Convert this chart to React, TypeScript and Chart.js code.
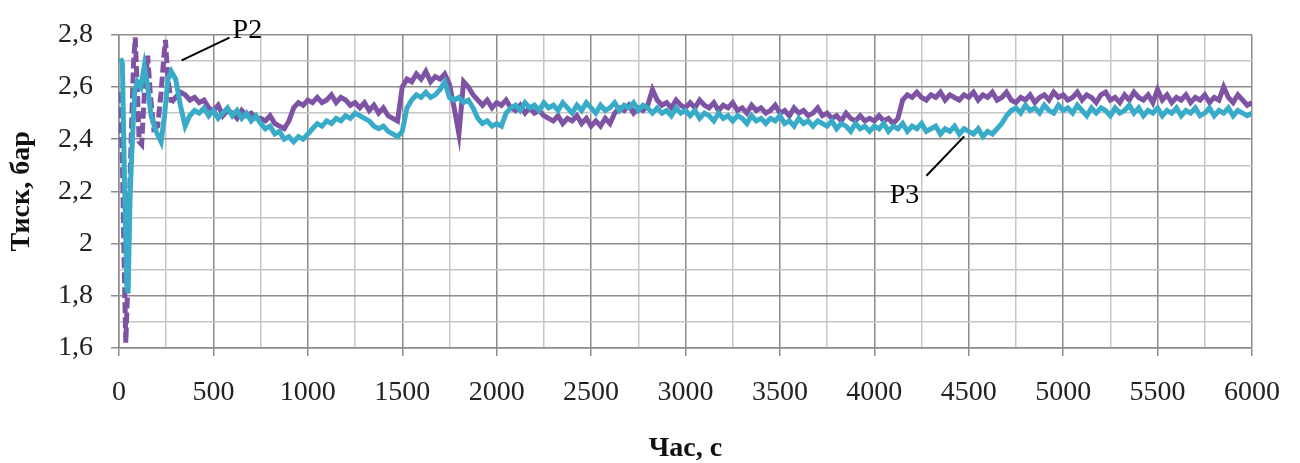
import React, { useEffect, useRef } from "react";
import { Chart, registerables } from "chart.js";

Chart.register(...registerables);

const X_TITLE = "Час, с";
const Y_TITLE = "Тиск, бар";
const P2_LABEL = "P2";
const P3_LABEL = "P3";

// Grid / tick positions (labels shown on every 500 s and every 0.2 bar)
const X_GRID = [0, 250, 500, 750, 1000, 1250, 1500, 1750, 2000, 2250, 2500, 2750, 3000, 3250, 3500, 3750, 4000, 4250, 4500, 4750, 5000, 5250, 5500, 5750, 6000];
const X_LABELS = ["0", "500", "1000", "1500", "2000", "2500", "3000", "3500", "4000", "4500", "5000", "5500", "6000"];
const Y_GRID = [1.6, 1.7, 1.8, 1.9, 2.0, 2.1, 2.2, 2.3, 2.4, 2.5, 2.6, 2.7, 2.8];
const Y_LABELS = ["1,6", "1,8", "2", "2,2", "2,4", "2,6", "2,8"];

// Early transient (own sampling per series)
const P2_TIME_EARLY = [5, 18, 27, 36, 45, 54, 66, 77, 86, 98, 107, 120, 134, 152, 166, 184, 205, 223, 238, 246, 259, 277];
const P2_EARLY = [2.58, 2.32, 1.94, 1.62, 1.81, 2.13, 2.44, 2.69, 2.79, 2.57, 2.39, 2.38, 2.57, 2.72, 2.57, 2.44, 2.45, 2.58, 2.72, 2.78, 2.63, 2.54];

const P3_TIME_EARLY = [9, 18, 27, 41, 48, 59, 71, 84, 98, 116, 134, 152, 170, 196, 223, 241, 259, 277];
const P3_EARLY = [2.71, 2.69, 2.32, 1.84, 1.81, 2.19, 2.40, 2.59, 2.62, 2.60, 2.68, 2.60, 2.49, 2.43, 2.39, 2.49, 2.63, 2.66];

// Common sampling afterwards
const TIME = [
  300, 325, 350, 375, 400, 425, 450, 475,
  500, 525, 550, 575, 600, 625, 650, 675, 700, 725, 750, 775, 800, 825, 850, 875, 900, 925, 950, 975,
  1000, 1025, 1050, 1075, 1100, 1125, 1150, 1175, 1200, 1225, 1250, 1275, 1300, 1325, 1350, 1375, 1400, 1425, 1450, 1475,
  1500, 1525, 1550, 1575, 1600, 1625, 1650, 1675, 1700, 1725, 1750, 1775, 1800, 1825, 1850, 1875, 1900, 1925, 1950, 1975,
  2000, 2025, 2050, 2075, 2100, 2125, 2150, 2175, 2200, 2225, 2250, 2275, 2300, 2325, 2350, 2375, 2400, 2425, 2450, 2475,
  2500, 2525, 2550, 2575, 2600, 2625, 2650, 2675, 2700, 2725, 2750, 2775, 2800, 2825, 2850, 2875, 2900, 2925, 2950, 2975,
  3000, 3025, 3050, 3075, 3100, 3125, 3150, 3175, 3200, 3225, 3250, 3275, 3300, 3325, 3350, 3375, 3400, 3425, 3450, 3475,
  3500, 3525, 3550, 3575, 3600, 3625, 3650, 3675, 3700, 3725, 3750, 3775, 3800, 3825, 3850, 3875, 3900, 3925, 3950, 3975,
  4000, 4025, 4050, 4075, 4100, 4125, 4150, 4175, 4200, 4225, 4250, 4275, 4300, 4325, 4350, 4375, 4400, 4425, 4450, 4475,
  4500, 4525, 4550, 4575, 4600, 4625, 4650, 4675, 4700, 4725, 4750, 4775, 4800, 4825, 4850, 4875, 4900, 4925, 4950, 4975,
  5000, 5025, 5050, 5075, 5100, 5125, 5150, 5175, 5200, 5225, 5250, 5275, 5300, 5325, 5350, 5375, 5400, 5425, 5450, 5475,
  5500, 5525, 5550, 5575, 5600, 5625, 5650, 5675, 5700, 5725, 5750, 5775, 5800, 5825, 5850, 5875, 5900, 5925, 5950, 5975,
  6000,
];

const P2_VALUES = [
  2.56, 2.58, 2.57, 2.55, 2.56, 2.54, 2.55, 2.52,
  2.51, 2.53, 2.49, 2.51, 2.50, 2.48, 2.51, 2.49, 2.50, 2.48, 2.48, 2.47, 2.49, 2.46, 2.45, 2.44, 2.47, 2.52, 2.54, 2.53,
  2.55, 2.54, 2.56, 2.54, 2.55, 2.57, 2.54, 2.56, 2.55, 2.53, 2.54, 2.52, 2.54, 2.51, 2.53, 2.50, 2.52, 2.49, 2.48, 2.47,
  2.60, 2.63, 2.62, 2.65, 2.63, 2.66, 2.62, 2.64, 2.63, 2.65, 2.61, 2.52, 2.42, 2.62, 2.60, 2.57, 2.55, 2.53, 2.55, 2.52,
  2.54, 2.53, 2.55, 2.52, 2.51, 2.53, 2.50, 2.52, 2.50, 2.51, 2.49, 2.48, 2.47, 2.49, 2.46, 2.48, 2.47, 2.49, 2.46, 2.48,
  2.45, 2.47, 2.45, 2.48, 2.46, 2.50, 2.52, 2.51, 2.53, 2.50, 2.52, 2.51, 2.53, 2.59, 2.55, 2.53, 2.54, 2.52, 2.55, 2.53,
  2.52, 2.54, 2.52, 2.55, 2.53, 2.52, 2.54, 2.51, 2.53, 2.52, 2.54, 2.51, 2.52, 2.50, 2.53, 2.51, 2.52, 2.50, 2.51, 2.53,
  2.50, 2.51, 2.49, 2.52, 2.50, 2.51, 2.49, 2.50, 2.52, 2.49, 2.50, 2.48, 2.49, 2.47, 2.50, 2.48, 2.47, 2.49, 2.47, 2.48,
  2.47, 2.49, 2.47, 2.48, 2.46, 2.48, 2.55, 2.57, 2.56, 2.58, 2.56, 2.55, 2.57, 2.56, 2.58, 2.55, 2.57, 2.56, 2.55, 2.57,
  2.56, 2.58, 2.55, 2.57, 2.56, 2.58, 2.55, 2.56, 2.58, 2.55, 2.54, 2.56, 2.55, 2.57, 2.54, 2.56, 2.57, 2.55, 2.58, 2.56,
  2.57, 2.55, 2.56, 2.58, 2.55, 2.57, 2.56, 2.54, 2.57, 2.58, 2.55, 2.56, 2.54, 2.57, 2.55, 2.58, 2.56, 2.55, 2.57, 2.54,
  2.59, 2.55, 2.57, 2.54, 2.56, 2.55, 2.57, 2.54, 2.56, 2.55, 2.57, 2.54, 2.56, 2.55, 2.60, 2.56, 2.54, 2.57, 2.55, 2.53,
  2.54,
];

const P3_VALUES = [
  2.63, 2.53, 2.45, 2.49, 2.51, 2.50, 2.52, 2.49,
  2.51, 2.48, 2.50, 2.52, 2.49, 2.51, 2.48, 2.50, 2.47, 2.49, 2.46, 2.44, 2.45, 2.42, 2.43, 2.40, 2.41, 2.39, 2.41, 2.40,
  2.42, 2.44, 2.46, 2.45, 2.47, 2.46, 2.48, 2.47, 2.49, 2.48, 2.50, 2.49, 2.48, 2.47, 2.45, 2.44, 2.45, 2.43, 2.42, 2.41,
  2.43, 2.52, 2.55, 2.57, 2.56, 2.58, 2.56, 2.57, 2.59, 2.62, 2.56, 2.55, 2.56, 2.54, 2.55, 2.52, 2.48, 2.46, 2.47, 2.45,
  2.46, 2.45, 2.50, 2.52, 2.53, 2.51, 2.54, 2.52, 2.53, 2.51, 2.54, 2.52, 2.53, 2.51, 2.54, 2.52, 2.50, 2.53, 2.51, 2.54,
  2.52, 2.50, 2.53, 2.51, 2.52, 2.54, 2.51, 2.53, 2.52, 2.54, 2.51, 2.53, 2.52, 2.50, 2.52, 2.50, 2.51, 2.49, 2.52, 2.50,
  2.51, 2.49, 2.51, 2.48, 2.50, 2.49, 2.47, 2.50, 2.48, 2.49, 2.47, 2.49, 2.48, 2.46, 2.49, 2.47, 2.48, 2.46, 2.48, 2.47,
  2.49, 2.46, 2.47, 2.45, 2.48, 2.46, 2.47, 2.45, 2.47, 2.46, 2.45, 2.47, 2.44, 2.46, 2.45, 2.43, 2.46, 2.44, 2.45, 2.43,
  2.45, 2.44, 2.46, 2.43, 2.45, 2.44, 2.46, 2.43, 2.45, 2.44, 2.46, 2.43, 2.44, 2.45, 2.42, 2.44, 2.43, 2.45, 2.42, 2.44,
  2.43, 2.42, 2.44, 2.41, 2.43, 2.42, 2.44, 2.46, 2.49, 2.51, 2.52, 2.50, 2.53, 2.51, 2.52, 2.50, 2.53, 2.51, 2.50, 2.53,
  2.51, 2.52, 2.50, 2.53, 2.51, 2.49, 2.52, 2.50, 2.52, 2.51, 2.49, 2.52, 2.50, 2.51, 2.53, 2.50, 2.52, 2.49, 2.51, 2.50,
  2.52, 2.49, 2.51, 2.50, 2.52, 2.49, 2.51, 2.50, 2.52, 2.49, 2.50, 2.52, 2.49, 2.51, 2.50, 2.52, 2.49, 2.51, 2.50, 2.49,
  2.50,
];

// Annotation anchors in data units
const P2_TEXT_AT = [680, 2.815];
const P2_LINE = [[332, 2.702], [585, 2.789]];
const P3_TEXT_AT = [4160, 2.185];
const P3_LINE = [[4276, 2.26], [4476, 2.411]];

const FONT = "'Liberation Serif', 'Times New Roman', serif";
const PURPLE = "#7f53a3";
const CYAN = "#38abc8";
const GRID_MAJOR = "#8c8c8c";
const GRID_MINOR = "#c6c6c6";

function pairs(xs: number[], ys: number[]) {
  return xs.map((x, i) => ({ x, y: ys[i] }));
}

function fmtY(v: number) {
  return String(Math.round(v * 10) / 10).replace(".", ",");
}

const annotationPlugin = {
  id: "leaderLabels",
  afterDatasetsDraw(chart: any) {
    const { ctx, scales } = chart;
    const xs = scales.x, ys = scales.y;
    ctx.save();
    ctx.strokeStyle = "#000";
    ctx.lineWidth = 2;
    for (const line of [P2_LINE, P3_LINE]) {
      ctx.beginPath();
      ctx.moveTo(xs.getPixelForValue(line[0][0]), ys.getPixelForValue(line[0][1]));
      ctx.lineTo(xs.getPixelForValue(line[1][0]), ys.getPixelForValue(line[1][1]));
      ctx.stroke();
    }
    ctx.fillStyle = "#000";
    ctx.font = `28px ${FONT}`;
    ctx.textAlign = "center";
    ctx.textBaseline = "middle";
    ctx.fillText(P2_LABEL, xs.getPixelForValue(P2_TEXT_AT[0]), ys.getPixelForValue(P2_TEXT_AT[1]));
    ctx.fillText(P3_LABEL, xs.getPixelForValue(P3_TEXT_AT[0]), ys.getPixelForValue(P3_TEXT_AT[1]));
    ctx.restore();
  },
};

export default function App() {
  const ref = useRef<HTMLCanvasElement | null>(null);

  useEffect(() => {
    document.body.style.margin = "0";
    const canvas = ref.current!;
    const p2Data = pairs(P2_TIME_EARLY, P2_EARLY).concat(pairs(TIME, P2_VALUES));
    const p3Data = pairs(P3_TIME_EARLY, P3_EARLY).concat(pairs(TIME, P3_VALUES));

    const isXMajor = (v: number) => X_LABELS.includes(String(v));
    const isYMajor = (v: number) => Y_LABELS.includes(fmtY(v));

    const chart = new Chart(canvas, {
      type: "line",
      data: {
        datasets: [
          {
            label: P2_LABEL,
            data: p2Data,
            borderColor: PURPLE,
            borderWidth: 5,
            pointRadius: 0,
            tension: 0,
            order: 2,
            segment: {
              borderDash: (c: any) => (c.p0.parsed.x < 270 ? [11, 4] : undefined),
            },
          },
          {
            label: P3_LABEL,
            data: p3Data,
            borderColor: CYAN,
            borderWidth: 5,
            pointRadius: 0,
            tension: 0,
            order: 1,
          },
        ],
      },
      options: {
        animation: false,
        responsive: false,
        maintainAspectRatio: false,
        layout: { padding: { top: 30, right: 43, left: 0, bottom: 0 } },
        plugins: { legend: { display: false }, tooltip: { enabled: false } },
        scales: {
          x: {
            type: "linear",
            min: X_GRID[0],
            max: X_GRID[X_GRID.length - 1],
            afterBuildTicks: (s: any) => { s.ticks = X_GRID.map((value) => ({ value })); },
            afterFit: (s: any) => { s.height = 115; },
            border: { color: GRID_MAJOR, width: 1.5 },
            grid: {
              color: (c: any) => (c.tick && isXMajor(c.tick.value) ? GRID_MAJOR : GRID_MINOR),
              tickColor: (c: any) => (c.tick && isXMajor(c.tick.value) ? GRID_MAJOR : "rgba(0,0,0,0)"),
              lineWidth: 1.5,
              tickLength: 8,
            },
            ticks: {
              autoSkip: false,
              maxRotation: 0,
              minRotation: 0,
              padding: 20,
              color: "#222",
              font: { family: FONT, size: 28 },
              callback: (v: any) => (isXMajor(Number(v)) ? String(v) : ""),
            },
            title: {
              display: true,
              text: X_TITLE,
              color: "#111",
              font: { family: FONT, size: 28, weight: "bold", lineHeight: 1 },
              padding: { top: 0, bottom: 0 },
            },
          },
          y: {
            type: "linear",
            min: Y_GRID[0],
            max: Y_GRID[Y_GRID.length - 1],
            afterBuildTicks: (s: any) => { s.ticks = Y_GRID.map((value) => ({ value })); },
            afterFit: (s: any) => { s.width = 119; },
            border: { color: GRID_MAJOR, width: 1.5 },
            grid: {
              color: (c: any) => (c.tick && isYMajor(c.tick.value) ? GRID_MAJOR : GRID_MINOR),
              tickColor: (c: any) => (c.tick && isYMajor(c.tick.value) ? GRID_MAJOR : "rgba(0,0,0,0)"),
              lineWidth: 1.5,
              tickLength: 8,
            },
            ticks: {
              autoSkip: false,
              padding: 18,
              color: "#222",
              font: { family: FONT, size: 28 },
              callback: (v: any) => (isYMajor(Number(v)) ? fmtY(Number(v)) : ""),
            },
            title: {
              display: true,
              text: Y_TITLE,
              color: "#111",
              font: { family: FONT, size: 28, weight: "bold", lineHeight: 1 },
              padding: { top: 8, bottom: 0 },
            },
          },
        },
      },
      plugins: [annotationPlugin],
    } as any);

    return () => chart.destroy();
  }, []);

  return <canvas ref={ref} width={1300} height={463} style={{ display: "block" }} />;
}
